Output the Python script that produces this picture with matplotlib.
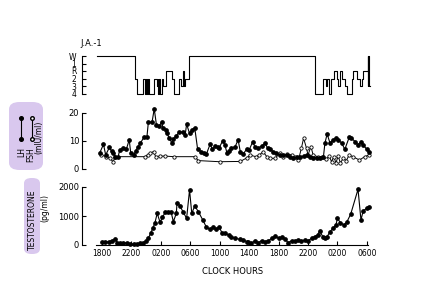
import matplotlib
matplotlib.use("Agg")
import matplotlib.pyplot as plt
from matplotlib.patches import FancyBboxPatch
from matplotlib.lines import Line2D

# hours elapsed since 18:00 on the first evening
stage_t = [-0.7, 4.5, 4.7, 5.6, 5.85, 6.0, 6.1, 6.3, 6.45, 7.0, 7.45, 7.55, 7.65, 7.8, 7.9,
           8.1, 8.35, 8.65, 9.45, 9.8, 10.4, 10.8, 11.05, 11.2, 11.3, 11.8,
           28.95, 30.05, 30.4, 30.55, 30.85, 31.1, 31.55, 31.9, 32.1, 32.35, 32.65,
           33.0, 33.25, 33.95, 34.15, 34.6, 35.05, 35.3, 35.5, 36.1, 36.15, 36.2, 36.3, 36.4]
# 0=W 1=1 2=R 3=2 4=3 5=4
stage_lv = [0, 3, 5, 3, 5, 3, 5, 3, 5, 3, 4, 3, 5, 3, 5,
            3, 4, 2, 3, 5, 3, 4, 2, 4, 3, 0,
            5, 3, 4, 3, 5, 3, 2, 3, 4, 2, 3,
            4, 5, 3, 2, 3, 4, 3, 2, 0, 4, 0, 4, 4]
stage_names = ["W", "1", "R", "2", "3", "4"]

lh_t = [-0.3, 0.2, 0.5, 1.0, 1.3, 1.5, 1.8, 2.2, 2.4, 2.8, 3.3, 3.7, 3.9, 4.3, 4.6, 4.9, 5.2,
        5.7, 6.1, 6.3, 6.8, 7.1, 7.4, 7.8, 8.1, 8.3, 8.7, 8.9, 9.1, 9.5, 9.7, 10.1, 10.5,
        11.0, 11.3, 11.5, 11.9, 12.2, 12.6, 13.0, 13.5, 13.8, 14.2, 14.7, 15.0, 15.4, 15.7,
        15.9, 16.4, 16.7, 17.0, 17.3, 17.6, 18.1, 18.5, 18.8, 19.2, 19.7, 20.0, 20.5, 20.8,
        21.2, 21.7, 22.2, 22.5, 22.8, 23.3, 23.7, 24.2, 24.6, 25.1, 25.5, 26.0, 26.5, 26.9,
        27.4, 27.8, 28.3, 28.7, 29.2, 29.6, 30.1, 30.3, 30.6, 31.0, 31.4, 31.8, 32.1, 32.6,
        33.0, 33.6, 33.9, 34.4, 34.8, 35.2, 35.5, 36.0, 36.3]
lh = [5.8, 8.8, 5.0, 7.7, 6.4, 5.6, 4.4, 4.4, 6.8, 7.4, 7.0, 10.4, 5.8, 5.0, 6.5, 8.0, 9.2,
      11.3, 11.3, 16.7, 16.7, 21.5, 15.7, 15.3, 16.9, 14.5, 13.9, 12.7, 11.0, 9.4, 10.6, 11.8,
      13.3, 13.1, 12.1, 16.0, 12.7, 13.9, 14.8, 7.0, 6.2, 5.6, 5.4, 8.9, 7.0, 8.2, 7.7, 7.4,
      10.1, 8.6, 5.6, 6.5, 7.4, 8.0, 10.4, 6.2, 5.4, 7.2, 6.8, 9.8, 7.7, 7.4, 8.2, 9.2, 7.4,
      7.0, 6.2, 5.6, 5.0, 5.0, 5.0, 4.4, 3.8, 4.4, 4.4, 4.6, 5.0, 4.4, 4.1, 4.1, 4.1, 4.4,
      9.2, 12.5, 9.2, 10.4, 11.0, 10.4, 9.2, 7.0, 11.3, 11.0, 9.8, 8.6, 9.8, 8.6, 7.0, 6.2]

fsh_t = [-0.1, 0.6, 1.1, 1.5, 1.8, 5.8, 6.2, 6.5, 7.0, 7.3, 7.9, 8.6, 9.8, 12.6, 13.1, 16.0,
         18.8, 19.7, 20.1, 20.9, 21.4, 21.9, 22.4, 22.9, 23.5, 24.2, 24.6, 25.2, 25.8, 26.2,
         26.7, 27.1, 27.4, 27.8, 28.0, 28.4, 28.7, 29.3, 29.9, 30.4, 30.9, 31.2, 31.5, 31.8,
         32.1, 32.4, 32.8, 33.2, 33.6, 34.1, 35.0, 35.7, 36.3]
fsh = [5.0, 4.4, 3.8, 2.6, 4.4, 4.4, 5.0, 5.6, 6.2, 4.4, 4.6, 4.6, 4.4, 4.4, 3.0, 2.6,
       2.7, 4.0, 5.0, 4.4, 5.0, 6.2, 4.4, 3.8, 3.8, 5.6, 4.4, 5.4, 5.0, 4.4,
       3.2, 7.4, 11.0, 7.4, 5.0, 8.0, 5.0, 4.4, 4.4, 3.4, 4.6, 2.6, 4.4, 2.2,
       4.6, 2.2, 3.8, 3.0, 5.0, 4.4, 3.2, 4.4, 5.0]

t_t = [0.0, 0.4, 0.9, 1.3, 1.8, 2.1, 2.4, 2.9, 3.4, 3.8, 4.3, 4.7, 5.2, 5.6, 6.0, 6.3, 6.6,
       6.9, 7.2, 7.5, 7.9, 8.2, 8.6, 9.0, 9.4, 9.7, 10.1, 10.2, 10.6, 11.0, 11.5, 11.9, 12.2,
       12.6, 13.1, 13.7, 14.2, 14.7, 15.1, 15.5, 15.9, 16.3, 16.7, 17.2, 17.6, 18.1, 18.8,
       19.2, 19.7, 19.9, 20.3, 20.8, 21.2, 21.7, 22.1, 22.6, 23.1, 23.5, 24.0, 24.4, 24.9,
       25.3, 25.8, 26.2, 26.7, 27.1, 27.6, 28.0, 28.5, 28.9, 29.3, 29.6, 30.0, 30.3, 30.6,
       31.0, 31.4, 31.8, 32.0, 32.4, 32.9, 33.3, 33.8, 34.8, 35.2, 35.5, 36.0, 36.3]
testo = [115, 90, 115, 150, 195, 80, 57, 57, 80, 35, 25, 25, 57, 80, 138, 230, 400,
         575, 770, 1090, 780, 955, 1125, 1125, 1125, 805, 1090, 1460, 1345, 1150, 920, 1900, 1090,
         1345, 1150, 860, 610, 540, 610, 540, 630, 425, 400, 345, 265, 230, 195,
         170, 115, 115, 57, 150, 80, 150, 115, 150, 230, 310, 230, 265, 195,
         80, 150, 150, 170, 140, 170, 150, 230, 290, 345, 490, 290, 230, 290,
         460, 575, 690, 920, 770, 690, 805, 1060, 1920, 860, 1180, 1265, 1320]

hour_ticks = list(range(0, 37, 4))
hour_labels = ["1800", "2200", "0200", "0600", "1000", "1400", "1800", "2200", "0200", "0600"]

W, H = 424, 294
FONT = 6
PURPLE = "#d9c8ee"
plt.rcParams["font.family"] = "DejaVu Sans"


def fx(px):
    return px / W


def fy(py):
    return 1 - py / H


fig = plt.figure(figsize=(W / 100, H / 100), dpi=100)

# highlighter marks behind the axis titles
fig.patches.append(FancyBboxPatch((fx(9), fy(170)), fx(34), 68 / H,
                                  boxstyle="round,pad=0,rounding_size=0.025",
                                  transform=fig.transFigure, fc=PURPLE, ec="none", zorder=0))
fig.patches.append(FancyBboxPatch((fx(24), fy(254)), fx(16), 76 / H,
                                  boxstyle="round,pad=0,rounding_size=0.018",
                                  transform=fig.transFigure, fc=PURPLE, ec="none", zorder=0))

xl = (-2.72, 36.7)
left, width = fx(82), fx(290)


def style(ax, lo, hi):
    for s in ["top", "right", "bottom"]:
        ax.spines[s].set_visible(False)
    ax.spines["left"].set_bounds(lo, hi)
    ax.spines["left"].set_linewidth(0.8)
    ax.tick_params(axis="y", direction="in", length=3, width=0.8, labelsize=FONT, pad=2)
    ax.set_xlim(*xl)
    ax.set_xticks([])
    ax.patch.set_alpha(0)


# sleep stages
ax1 = fig.add_axes([left, fy(96.5), width, 43.5 / H])
ax1.step(stage_t, stage_lv, where="post", color="black", lw=0.8)
ax1.set_ylim(5.4, -0.4)
style(ax1, 0, 5)
ax1.set_yticks(range(6))
ax1.set_yticklabels(stage_names, fontsize=5.5)
ax1.tick_params(axis="y", pad=4)
fig.text(fx(91), fy(44), "J.A.-1", fontsize=FONT, ha="center", va="center")

# LH / FSH
ax2 = fig.add_axes([left, fy(171.8), width, 64.4 / H])
ax2.plot(fsh_t, fsh, color="black", lw=0.7, marker="o", ms=2.4, mfc="white",
         mec="black", mew=0.6, clip_on=False)
ax2.plot(lh_t, lh, color="black", lw=0.8, marker="o", ms=2.4, mfc="black",
         mec="black", clip_on=False)
ax2.set_ylim(-1, 22)
style(ax2, 0, 20)
ax2.set_yticks([0, 10, 20])

# testosterone
ax3 = fig.add_axes([left, fy(245), width, 60.9 / H])
ax3.plot(t_t, testo, color="black", lw=0.8, marker="o", ms=2.4, mfc="black",
         mec="black", clip_on=False)
ax3.set_ylim(0, 2100)
style(ax3, 0, 2000)
ax3.set_yticks([0, 1000, 2000])
ax3.spines["bottom"].set_visible(True)
ax3.spines["bottom"].set_bounds(-0.8, 36.2)
ax3.spines["bottom"].set_linewidth(0.8)
ax3.set_xticks(hour_ticks)
ax3.set_xticklabels(hour_labels)
ax3.tick_params(axis="x", direction="in", length=3, width=0.8, labelsize=5.5, pad=3)

# axis titles on the left
fig.add_artist(Line2D([fx(21), fx(21)], [fy(118), fy(139)], color="black", lw=0.8,
                      marker="o", ms=2.6, mfc="black", transform=fig.transFigure))
fig.add_artist(Line2D([fx(31.5), fx(31.5)], [fy(118), fy(139)], color="black", lw=0.8,
                      marker="o", ms=2.6, mfc="white", transform=fig.transFigure))
fig.text(fx(21.5), fy(152), "LH", rotation=90, fontsize=5.5, ha="center", va="center")
fig.text(fx(31), fy(155), "FSH", rotation=90, fontsize=5.5, ha="center", va="center")
fig.text(fx(39), fy(137), "(mIU/ml)", rotation=90, fontsize=5.5, ha="center", va="center")
fig.text(fx(32), fy(220), "TESTOSTERONE", rotation=90, fontsize=5.5, ha="center", va="center")
fig.text(fx(45), fy(208), "(pg/ml)", rotation=90, fontsize=5.5, ha="center", va="center")
fig.text(fx(233), fy(272), "CLOCK HOURS", fontsize=FONT, ha="center", va="center")

fig.savefig("out.png", dpi=100)
